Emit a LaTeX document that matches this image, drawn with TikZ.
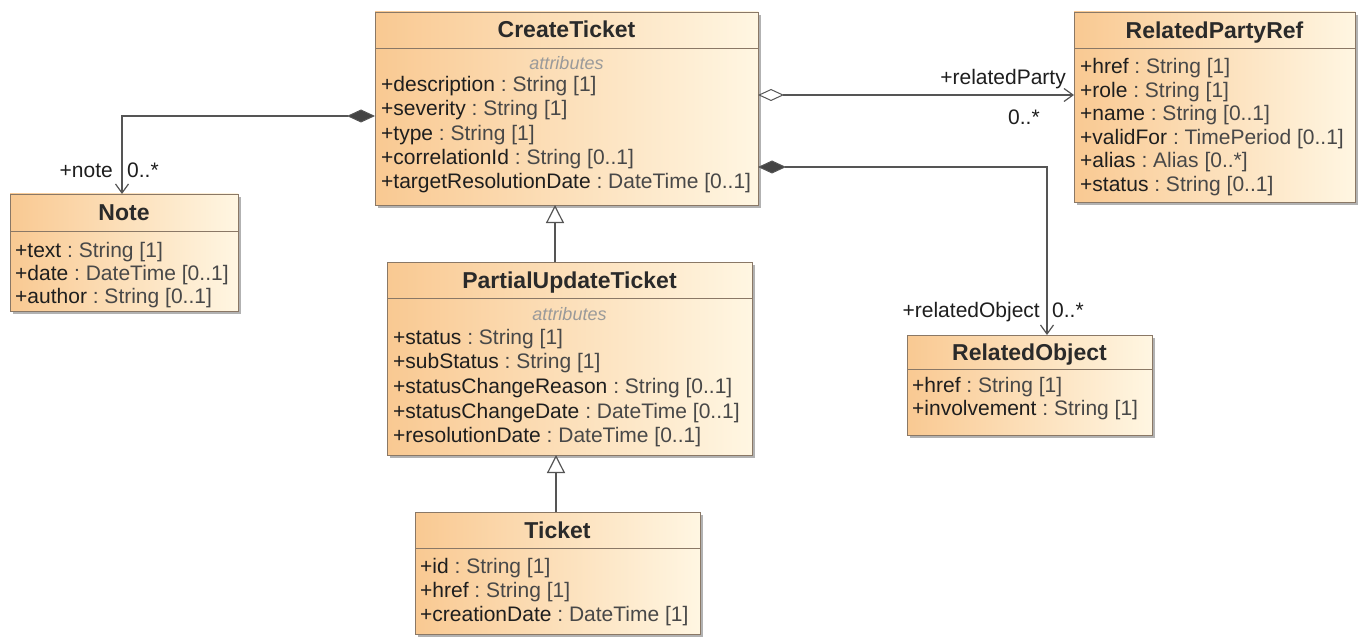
\documentclass[tikz,border=0pt]{standalone}
\usepackage{fontspec}
\setmainfont{Liberation Sans}
\usetikzlibrary{arrows.meta,shadows,calc}
\definecolor{boxleft}{HTML}{F9C992}
\definecolor{boxright}{HTML}{FFF6E2}
\definecolor{bordercol}{HTML}{8A7866}
\definecolor{titlecol}{HTML}{2A2A2A}
\definecolor{textcol}{HTML}{1E1E1E}
\definecolor{typecol}{HTML}{484848}
\definecolor{stereocol}{HTML}{9A9A9A}
\definecolor{linecol}{HTML}{555555}
\definecolor{diamcol}{HTML}{444444}
\newcommand{\at}[2]{#1\ \textcolor{typecol}{:\ #2}}
\begin{document}
\begin{tikzpicture}[x=1pt,y=-1pt,
  classbox/.style={draw=bordercol, line width=0.9pt, left color=boxleft, right color=boxright,
    anchor=north west, inner sep=0pt, outer sep=0pt,
    drop shadow={shadow xshift=3pt, shadow yshift=-3pt, fill=black, opacity=0.3}},
  classtitle/.style={anchor=base, font=\fontsize{23}{26}\selectfont\bfseries, text=titlecol, inner sep=0pt},
  attr/.style={anchor=base west, font=\fontsize{21}{24}\selectfont, text=textcol, inner sep=0pt},
  stereo/.style={anchor=base, font=\fontsize{18}{20}\selectfont\itshape, text=stereocol, inner sep=0pt},
  sepline/.style={draw=bordercol, line width=0.9pt},
  conn/.style={draw=linecol, line width=1.2pt},
  lbl/.style={font=\fontsize{21}{24}\selectfont, text=textcol, inner sep=0pt},
  barb/.tip={Straight Barb[length=9pt,width=13pt,line width=1.2pt]},
  fdiam/.tip={Diamond[length=28pt,width=13pt,fill=diamcol,line width=1pt]},
  odiam/.tip={Diamond[length=26pt,width=12pt,fill=white,line width=1pt]},
  gen/.tip={Triangle[length=18pt,width=18pt,fill=white,line width=1.2pt]}
]
\useasboundingbox (0,0) rectangle (1362,639);
\fill[white] (0,0) rectangle (1362,639);

% ---------- boxes ----------
\node[classbox, minimum width=383pt, minimum height=193pt] (ct) at (375,12) {};
\node[classbox, minimum width=281pt, minimum height=190pt] (rpr) at (1074,12) {};
\node[classbox, minimum width=228pt, minimum height=117pt] (note) at (10,194) {};
\node[classbox, minimum width=365pt, minimum height=193pt] (pu) at (387,262) {};
\node[classbox, minimum width=285pt, minimum height=122pt] (tk) at (415,512) {};
\node[classbox, minimum width=245pt, minimum height=100pt] (ro) at (907,335) {};

% ---------- CreateTicket ----------
\node[classtitle] (ctt) at ($(ct.north)+(0,26)$) {CreateTicket};
\draw[sepline] ($(ct.north west)+(0,36)$) -- ($(ct.north east)+(0,36)$);
\node[stereo] (cts) at ($(ct.north)+(0,58)$) {attributes};
\node[attr] (ct1) at ($(ct.north west)+(6,80)$) {\at{+description}{String [1]}};
\node[attr] (ct2) at ($(ct.north west)+(6,104)$) {\at{+severity}{String [1]}};
\node[attr] (ct3) at ($(ct.north west)+(6,128.5)$) {\at{+type}{String [1]}};
\node[attr] (ct4) at ($(ct.north west)+(6,153)$) {\at{+correlationId}{String [0..1]}};
\node[attr] (ct5) at ($(ct.north west)+(6,177)$) {\at{+targetResolutionDate}{DateTime [0..1]}};

% ---------- RelatedPartyRef ----------
\node[classtitle] (rprt) at ($(rpr.north)+(0,27)$) {RelatedPartyRef};
\draw[sepline] ($(rpr.north west)+(0,36)$) -- ($(rpr.north east)+(0,36)$);
\node[attr] (rp1) at ($(rpr.north west)+(6,62)$) {\at{+href}{String [1]}};
\node[attr] (rp2) at ($(rpr.north west)+(6,85.5)$) {\at{+role}{String [1]}};
\node[attr] (rp3) at ($(rpr.north west)+(6,109)$) {\at{+name}{String [0..1]}};
\node[attr] (rp4) at ($(rpr.north west)+(6,132.5)$) {\at{+validFor}{TimePeriod [0..1]}};
\node[attr] (rp5) at ($(rpr.north west)+(6,156)$) {\at{+alias}{Alias [0..*]}};
\node[attr] (rp6) at ($(rpr.north west)+(6,180)$) {\at{+status}{String [0..1]}};

% ---------- Note ----------
\node[classtitle] (notet) at ($(note.north)+(0,26)$) {Note};
\draw[sepline] ($(note.north west)+(0,37)$) -- ($(note.north east)+(0,37)$);
\node[attr] (n1) at ($(note.north west)+(5,63)$) {\at{+text}{String [1]}};
\node[attr] (n2) at ($(note.north west)+(5,86)$) {\at{+date}{DateTime [0..1]}};
\node[attr] (n3) at ($(note.north west)+(5,109)$) {\at{+author}{String [0..1]}};

% ---------- PartialUpdateTicket ----------
\node[classtitle] (put) at ($(pu.north)+(0,26)$) {PartialUpdateTicket};
\draw[sepline] ($(pu.north west)+(0,36)$) -- ($(pu.north east)+(0,36)$);
\node[stereo] (pus) at ($(pu.north)+(0,58)$) {attributes};
\node[attr] (pu1) at ($(pu.north west)+(6,82)$) {\at{+status}{String [1]}};
\node[attr] (pu2) at ($(pu.north west)+(6,106)$) {\at{+subStatus}{String [1]}};
\node[attr] (pu3) at ($(pu.north west)+(6,131)$) {\at{+statusChangeReason}{String [0..1]}};
\node[attr] (pu4) at ($(pu.north west)+(6,156)$) {\at{+statusChangeDate}{DateTime [0..1]}};
\node[attr] (pu5) at ($(pu.north west)+(6,180)$) {\at{+resolutionDate}{DateTime [0..1]}};

% ---------- Ticket ----------
\node[classtitle] (tkt) at ($(tk.north)+(0,26)$) {Ticket};
\draw[sepline] ($(tk.north west)+(0,36)$) -- ($(tk.north east)+(0,36)$);
\node[attr] (tk1) at ($(tk.north west)+(5,61)$) {\at{+id}{String [1]}};
\node[attr] (tk2) at ($(tk.north west)+(5,85)$) {\at{+href}{String [1]}};
\node[attr] (tk3) at ($(tk.north west)+(5,109)$) {\at{+creationDate}{DateTime [1]}};

% ---------- RelatedObject ----------
\node[classtitle] (rot) at ($(ro.north)+(0,25)$) {RelatedObject};
\draw[sepline] ($(ro.north west)+(0,34)$) -- ($(ro.north east)+(0,34)$);
\node[attr] (ro1) at ($(ro.north west)+(5,57)$) {\at{+href}{String [1]}};
\node[attr] (ro2) at ($(ro.north west)+(5,80)$) {\at{+involvement}{String [1]}};

% ---------- connectors ----------
\draw[conn, {fdiam}-{barb}] ($(ct.north west)+(0,104)$) -| ($(note.north west)+(112,0)$);
\draw[conn, {odiam}-{barb}] ($(ct.north east)+(0,83)$) -- ($(rpr.north west)+(0,83)$);
\draw[conn, {fdiam}-{barb}] ($(ct.north east)+(0,155)$) -| ($(ro.north west)+(140,0)$);
\draw[conn, -{gen}] ($(pu.north west)+(168,0)$) -- ($(ct.south west)+(180,0)$);
\draw[conn, -{gen}] ($(tk.north west)+(141,0)$) -- ($(pu.south west)+(169,0)$);

% ---------- role labels ----------
\node[lbl, anchor=base east] (l1) at (113,178) {+note};
\node[lbl, anchor=base west] (l2) at (127,178) {0..*};
\node[lbl, anchor=base east] (l3) at (1066,85) {+relatedParty};
\node[lbl, anchor=base west] (l4) at (1008,125) {0..*};
\node[lbl, anchor=base east] (l5) at (1040,317) {+relatedObject};
\node[lbl, anchor=base west] (l6) at (1052,317) {0..*};
\end{tikzpicture}
\end{document}
